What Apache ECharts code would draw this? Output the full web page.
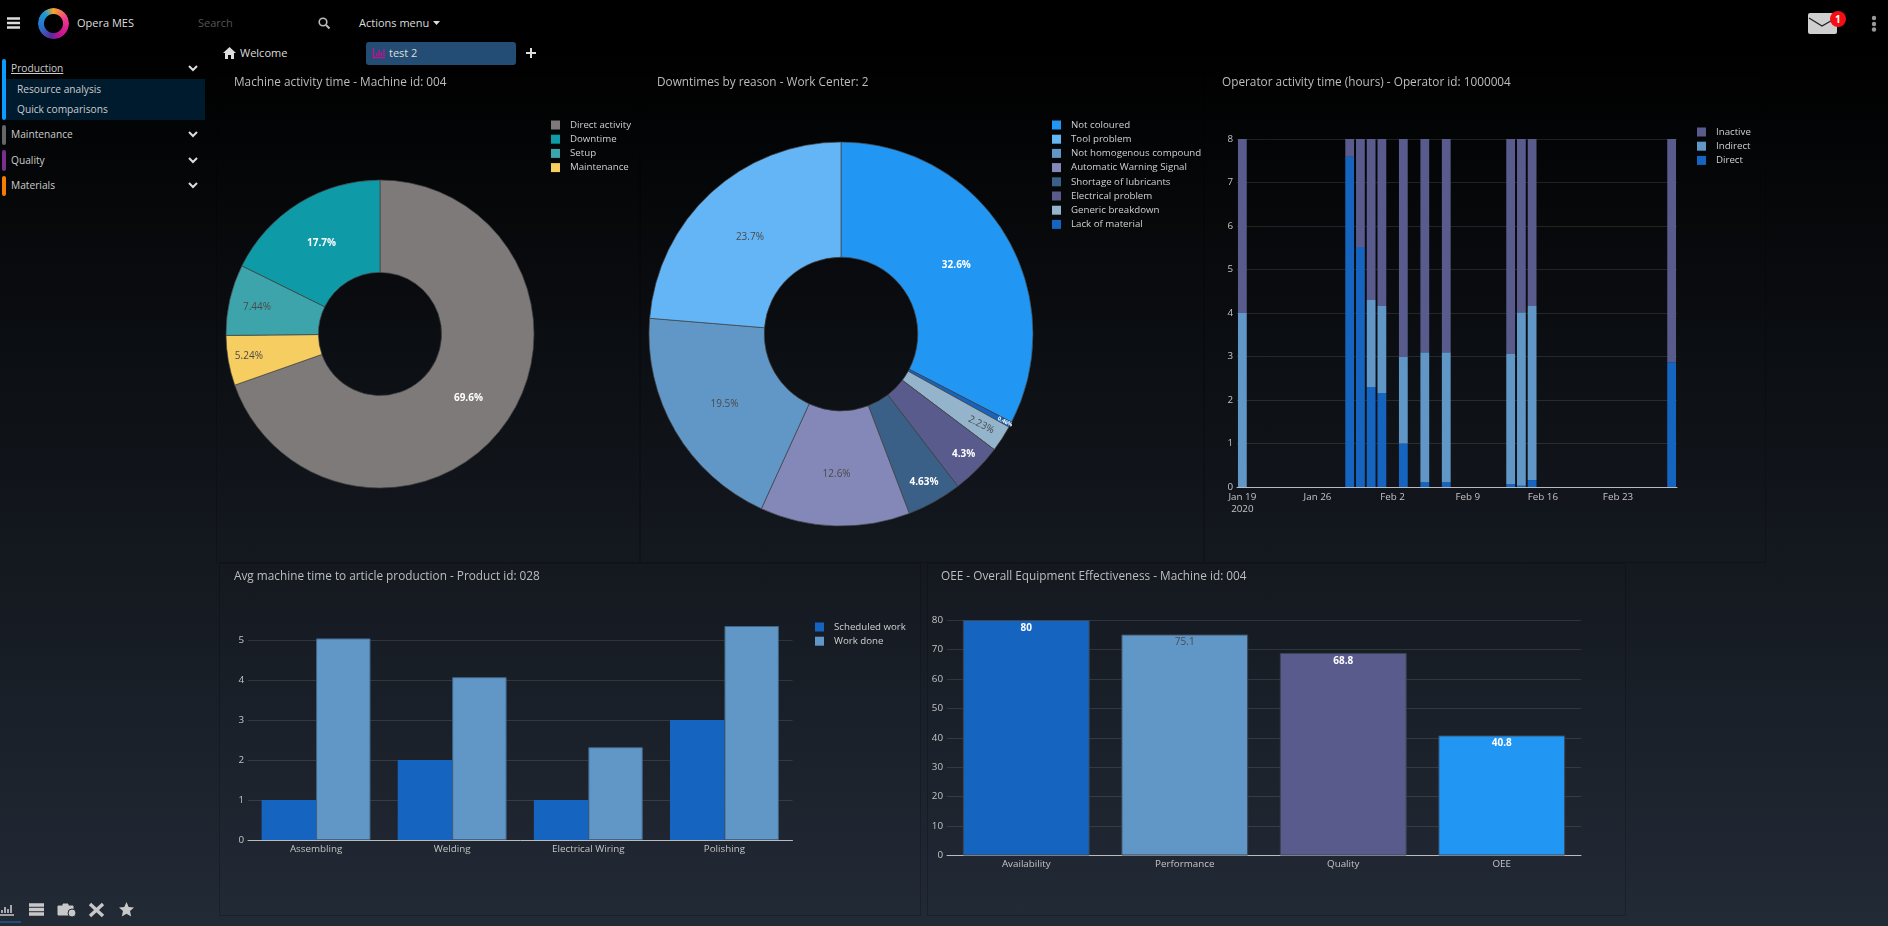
<!DOCTYPE html>
<html>
<head>
<meta charset="utf-8">
<title>Opera MES</title>
<script src="https://cdn.jsdelivr.net/npm/echarts@6/dist/echarts.min.js"></script>
<style>
html, body { margin: 0; padding: 0; width: 1888px; height: 926px; overflow: hidden; }
body { background: linear-gradient(#000 0, #000 50px, #222a36 100%); font-family: "Open Sans", sans-serif; color: #ccc; font-size: 11px; position: relative; }
.abs { position: absolute; white-space: nowrap; line-height: 14px; }
.side { font-size: 10.2px; }
.panel { position: absolute; box-sizing: border-box; border: 1px solid rgba(0,0,0,.2); }
.bar { position: absolute; left: 2px; width: 4px; border-radius: 2px; }
svg { position: absolute; overflow: visible; }
#logo { position: absolute; left: 38px; top: 8px; width: 31px; height: 31px; border-radius: 50%;
  background: conic-gradient(#f5a623 0deg, #f0388f 70deg, #c4128f 150deg, #5a2a9c 190deg, #2a6fc9 250deg, #1c9bd8 320deg, #f5a623 360deg);
  -webkit-mask: radial-gradient(circle, transparent 9px, #000 10px); mask: radial-gradient(circle, transparent 9px, #000 10px); }
</style>
</head>
<body>

<!-- header -->
<svg style="left:7px;top:17px" width="14" height="12"><path d="M0 1.5h13M0 6h13M0 10.5h13" stroke="#ddd" stroke-width="2.4"/></svg>
<div id="logo"></div>
<div class="abs" style="left:77px;top:16px;color:#ddd">Opera MES</div>
<div class="abs" style="left:198px;top:16px;color:#555">Search</div>
<svg style="left:318px;top:17px" width="12" height="12"><circle cx="5" cy="5" r="3.8" fill="none" stroke="#bbb" stroke-width="1.6"/><path d="M8 8l3.5 3.5" stroke="#bbb" stroke-width="2"/></svg>
<div class="abs" style="left:359px;top:16px;color:#ddd">Actions menu</div>
<svg style="left:433px;top:21px" width="8" height="5"><path d="M0 0h7l-3.5 4z" fill="#ddd"/></svg>
<svg style="left:1808px;top:13px" width="30" height="22"><rect width="29" height="21" rx="2" fill="#cfcfcf"/><path d="M1 5l13 8 14-8" fill="none" stroke="#222" stroke-width="1.4"/></svg>
<svg style="left:1830px;top:11px" width="16" height="16"><circle cx="8" cy="8" r="8" fill="#f50f14"/></svg>
<div class="abs" style="left:1835px;top:12px;color:#fff;font-weight:700;font-size:10px">1</div>
<svg style="left:1871px;top:15px" width="6" height="18"><circle cx="3" cy="3" r="2.2" fill="#999"/><circle cx="3" cy="9" r="2.2" fill="#999"/><circle cx="3" cy="14.5" r="2.2" fill="#999"/></svg>

<!-- tabs -->
<svg style="left:223px;top:47px" width="13" height="12"><path d="M6.5 0L13 6h-2v6H8V8H5v4H2V6H0z" fill="#ddd"/></svg>
<div class="abs" style="left:240px;top:46px;color:#ddd">Welcome</div>
<div style="position:absolute;left:366px;top:42px;width:150px;height:23px;background:#234d74;border-radius:3px"></div>
<svg style="left:373px;top:48px" width="12" height="10"><path d="M.5 0v9.5H12M3.5 8V5M6 8V2M8.5 8V4M11 8V1" fill="none" stroke="#c4128f" stroke-width="1.3"/></svg>
<div class="abs" style="left:389px;top:46px;color:#ddd">test 2</div>
<svg style="left:526px;top:48px" width="10" height="10"><path d="M5 0v10M0 5h10" stroke="#ddd" stroke-width="2"/></svg>

<!-- sidebar -->
<div class="bar" style="top:59px;height:61px;background:#0a9cff"></div>
<div class="bar" style="top:125px;height:20px;background:#666"></div>
<div class="bar" style="top:150px;height:21px;background:#7a2f8f"></div>
<div class="bar" style="top:176px;height:20px;background:#f57c00"></div>
<div style="position:absolute;left:6px;top:79px;width:199px;height:41px;background:#001a2e"></div>
<div class="abs side" style="left:11px;top:61px;text-decoration:underline">Production</div>
<div class="abs side" style="left:17px;top:82px">Resource analysis</div>
<div class="abs side" style="left:17px;top:102px">Quick comparisons</div>
<div class="abs side" style="left:11px;top:127px">Maintenance</div>
<div class="abs side" style="left:11px;top:153px">Quality</div>
<div class="abs side" style="left:11px;top:178px">Materials</div>
<svg style="left:188px;top:65px" width="10" height="7"><path d="M1 1l4 4 4-4" fill="none" stroke="#ddd" stroke-width="2"/></svg>
<svg style="left:188px;top:131px" width="10" height="7"><path d="M1 1l4 4 4-4" fill="none" stroke="#ddd" stroke-width="2"/></svg>
<svg style="left:188px;top:157px" width="10" height="7"><path d="M1 1l4 4 4-4" fill="none" stroke="#ddd" stroke-width="2"/></svg>
<svg style="left:188px;top:182px" width="10" height="7"><path d="M1 1l4 4 4-4" fill="none" stroke="#ddd" stroke-width="2"/></svg>

<!-- bottom icons -->
<svg style="left:0;top:903px" width="14" height="13"><path d="M0 12h14M2 10V7M5 10V4M8 10V6M11 10V2" fill="none" stroke="#c8c8c8" stroke-width="1.6"/></svg>
<svg style="left:29px;top:903px" width="15" height="13"><path d="M0 2h15M0 6.5h15M0 11h15" stroke="#c8c8c8" stroke-width="3.4"/></svg>
<svg style="left:58px;top:903px" width="19" height="14"><path d="M0 3h15v9H0zM5 3V1h5v2" fill="#c8c8c8" stroke="#c8c8c8"/><circle cx="14" cy="10" r="4" fill="#c8c8c8" stroke="#222a36"/></svg>
<svg style="left:89px;top:903px" width="15" height="14"><path d="M1 1l13 12M14 1L1 13" stroke="#c8c8c8" stroke-width="3.4"/></svg>
<svg style="left:119px;top:902px" width="15" height="15"><path d="M7.5 0l2.2 5 5.3.5-4 3.6 1.2 5.4-4.7-2.8-4.7 2.8 1.2-5.4-4-3.6L5.3 5z" fill="#c8c8c8"/></svg>
<div style="position:absolute;left:0;top:921px;width:21px;height:2px;background:#1f4d7a"></div>

<!-- chart panels -->
<div class="panel" id="chart1" style="left:216px;top:72px;width:424px;height:491px"></div>
<div class="panel" id="chart2" style="left:640px;top:72px;width:564px;height:491px"></div>
<div class="panel" id="chart3" style="left:1204px;top:72px;width:562px;height:491px"></div>
<div class="panel" id="chart4" style="left:219px;top:563px;width:702px;height:353px"></div>
<div class="panel" id="chart5" style="left:927px;top:563px;width:699px;height:353px"></div>

<script>
// data
var activityNames = ['Direct activity', 'Maintenance', 'Setup', 'Downtime'];
var activityValues = [69.6, 5.24, 7.44, 17.7];
var activityLegend = ['Direct activity', 'Downtime', 'Setup', 'Maintenance'];

var reasonNames = ['Not coloured', 'Lack of material', 'Generic breakdown', 'Electrical problem', 'Shortage of lubricants', 'Automatic Warning Signal', 'Not homogenous compound', 'Tool problem'];
var reasonValues = [32.6, 0.46, 2.23, 4.3, 4.63, 12.6, 19.5, 23.7];
var reasonLegend = ['Not coloured', 'Tool problem', 'Not homogenous compound', 'Automatic Warning Signal', 'Shortage of lubricants', 'Electrical problem', 'Generic breakdown', 'Lack of material'];

var operatorDays = ['Jan 19', 'Jan 29', 'Jan 30', 'Jan 31', 'Feb 1', 'Feb 3', 'Feb 5', 'Feb 7', 'Feb 13', 'Feb 14', 'Feb 15', 'Feb 28'];
var operatorDirect = [0, 7.59, 5.52, 2.3, 2.16, 1, 0.11, 0.11, 0.07, 0.03, 0.16, 2.87];
var operatorIndirect = [4, 0, 0, 2, 2, 2, 2.99, 2.99, 2.99, 3.99, 4, 0];
var operatorInactive = [4, 0.41, 2.48, 3.7, 3.84, 5, 4.9, 4.9, 4.94, 3.98, 3.84, 5.13];
var weekTicks = ['Jan 19', 'Jan 26', 'Feb 2', 'Feb 9', 'Feb 16', 'Feb 23'];

var phaseNames = ['Assembling', 'Welding', 'Electrical Wiring', 'Polishing'];
var scheduledWork = [1, 2, 1, 3];
var workDone = [5.04, 4.07, 2.32, 5.35];

var oeeNames = ['Availability', 'Performance', 'Quality', 'OEE'];
var oeeValues = [80, 75.1, 68.8, 40.8];

// colours
var activityColors = ['#7f7a7a', '#f6cd61', '#3da4ab', '#0e9aa7'];
var reasonColors = ['#2196f3', '#1565c0', '#94b4cc', '#585b8c', '#3a6088', '#8488b8', '#6097c7', '#64b5f6'];
var oeeColors = ['#1565c0', '#6097c7', '#585b8c', '#2196f3'];
var DARK = '#4a4a4a', WHITE = '#fff';
var activityLabelColors = [WHITE, DARK, DARK, WHITE];
var reasonLabelColors = [WHITE, WHITE, DARK, WHITE, WHITE, DARK, DARK, DARK];
var oeeLabelColors = [WHITE, DARK, WHITE, WHITE];
// plotly pushes labels of the thin slices outwards, [dx, dy, rotate]
// rotated labels turn around their old spot so their dx/dy are turned back by the same angle
var activityLabelShift = [[-2, 0, 0], [-22, 3, 0], [-15, -2, 0], [0, 3, 0]];
var reasonLabelShift = [[-2, 3, 0], [48.7, 1, -27], [29.5, 2.9, -27], [25, 23, 0], [16, 28, 0], [0, 3, 0], [2, 1, 0], [2, 4, 0]];

var FONT = '"Open Sans", sans-serif';
var AXIS_TEXT = { color: '#c4c4c4', fontSize: 9.8, fontFamily: FONT, margin: 4 };
var GRID_LINE = { lineStyle: { color: 'rgba(255,255,255,0.11)', width: 1 } };

function chartTitle(text, left, top) {
    return { text: text, left: left, top: top, padding: 0,
        textStyle: { color: '#bdbdbd', fontSize: 11.8, fontWeight: 'normal', fontFamily: FONT } };
}
function chartLegend(names, left, top) {
    return { data: names, orient: 'vertical', left: left, top: top, padding: 0, icon: 'rect',
        itemWidth: 9, itemHeight: 9, itemGap: 4.2, selectedMode: false, itemStyle: { borderWidth: 0 },
        textStyle: { color: '#d0d0d0', fontSize: 9.7, fontFamily: FONT, padding: [0, 0, 0, 5] } };
}
function pieSeries(names, values, colors, labelColors, shift, center, radius, hole) {
    var rows = [];
    for (var i = 0; i < names.length; i++) {
        rows.push({
            name: names[i], value: values[i],
            itemStyle: { color: colors[i] },
            label: {
                color: labelColors[i],
                fontWeight: labelColors[i] == WHITE ? 700 : 400,
                fontSize: values[i] < 1 ? 5.5 : 10,
                formatter: values[i] + '%'
            }
        });
    }
    return {
        type: 'pie', center: center, radius: [hole, radius], startAngle: 90, clockwise: true,
        avoidLabelOverlap: false, minAngle: 0, data: rows,
        itemStyle: { borderColor: '#444', borderWidth: 0.7 },
        label: { show: true, position: 'inside', fontFamily: FONT },
        labelLine: { show: false },
        emphasis: { scale: false },
        labelLayout: function (params) {
            var s = shift[params.dataIndex];
            return { dx: s[0], dy: s[1], rotate: s[2] };
        }
    };
}

// machine activity
var myChart = echarts.init(document.getElementById('chart1'));
var option = {
    animation: false,
    title: chartTitle('Machine activity time - Machine id: 004', 17, 3.5),
    legend: chartLegend(activityLegend, 334, 47),
    series: [pieSeries(activityNames, activityValues, activityColors, activityLabelColors, activityLabelShift, [163, 261], 154, 61.6)]
};
myChart.setOption(option);

// downtimes
var myChart = echarts.init(document.getElementById('chart2'));
var option = {
    animation: false,
    title: chartTitle('Downtimes by reason - Work Center: 2', 16, 3.5),
    legend: chartLegend(reasonLegend, 411, 47),
    series: [pieSeries(reasonNames, reasonValues, reasonColors, reasonLabelColors, reasonLabelShift, [200, 261], 192, 76.8)]
};
myChart.setOption(option);

// operator activity, one category per calendar day so the gaps stay
var calendarDays = [];
for (var d = new Date(2020, 0, 19); d <= new Date(2020, 1, 28); d.setDate(d.getDate() + 1)) {
    calendarDays.push(echarts.time.format(d, '{MMM} {d}', false));
}
function operatorRows(values) {
    return calendarDays.map(function (day) {
        var at = operatorDays.indexOf(day);
        return at < 0 ? '-' : values[at];
    });
}
function stackBar(name, values, color) {
    return { name: name, type: 'bar', stack: 'time', barWidth: 8.8, itemStyle: { color: color }, data: operatorRows(values) };
}
var myChart = echarts.init(document.getElementById('chart3'));
var option = {
    animation: false,
    title: chartTitle('Operator activity time (hours) - Operator id: 1000004', 17, 3.5),
    legend: chartLegend(['Inactive', 'Indirect', 'Direct'], 492, 54),
    grid: { left: 32, top: 66, width: 440, height: 348, outerBoundsMode: 'none' },
    xAxis: {
        type: 'category', data: calendarDays,
        axisLine: { lineStyle: { color: '#bbb', width: 1 } },
        axisTick: { show: false }, splitLine: { show: false },
        axisLabel: Object.assign({}, AXIS_TEXT, {
            lineHeight: 12, hideOverlap: false,
            interval: function (index, value) { return weekTicks.indexOf(value) >= 0; },
            formatter: function (value) { return value == weekTicks[0] ? value + '\n2020' : value; }
        })
    },
    yAxis: {
        type: 'value', min: 0, max: 8, interval: 1,
        axisLine: { show: false }, axisTick: { show: false },
        splitLine: GRID_LINE, axisLabel: AXIS_TEXT
    },
    series: [
        stackBar('Direct', operatorDirect, '#1565c0'),
        stackBar('Indirect', operatorIndirect, '#6097c7'),
        stackBar('Inactive', operatorInactive, '#585b8c')
    ]
};
myChart.setOption(option);

// avg machine time
var myChart = echarts.init(document.getElementById('chart4'));
var option = {
    animation: false,
    title: chartTitle('Avg machine time to article production - Product id: 028', 14, 6.5),
    legend: chartLegend(['Scheduled work', 'Work done'], 595, 58),
    grid: { left: 28, top: 36, width: 544.5, height: 240, outerBoundsMode: 'none' },
    xAxis: {
        type: 'category', data: phaseNames,
        axisLine: { lineStyle: { color: '#bbb', width: 1 } }, axisTick: { show: false },
        axisLabel: AXIS_TEXT
    },
    yAxis: {
        type: 'value', min: 0, max: 6, interval: 1,
        axisLine: { show: false }, axisTick: { show: false },
        splitLine: Object.assign({ showMaxLine: false }, GRID_LINE),
        axisLabel: Object.assign({ showMaxLabel: false }, AXIS_TEXT)
    },
    series: [
        { name: 'Scheduled work', type: 'bar', barGap: 0, barCategoryGap: '20%', data: scheduledWork, itemStyle: { color: '#1565c0' } },
        { name: 'Work done', type: 'bar', data: workDone, itemStyle: { color: '#6097c7', borderColor: '#3f6485', borderWidth: 1 } }
    ]
};
myChart.setOption(option);

// OEE
var myChart = echarts.init(document.getElementById('chart5'));
var option = {
    animation: false,
    title: chartTitle('OEE - Overall Equipment Effectiveness - Machine id: 004', 13, 6.5),
    grid: { left: 19, top: 56, width: 634, height: 235.5, outerBoundsMode: 'none' },
    xAxis: {
        type: 'category', data: oeeNames,
        axisLine: { lineStyle: { color: '#bbb', width: 1 } }, axisTick: { show: false },
        axisLabel: AXIS_TEXT
    },
    yAxis: {
        type: 'value', min: 0, max: 80, interval: 10,
        axisLine: { show: false }, axisTick: { show: false },
        splitLine: GRID_LINE, axisLabel: AXIS_TEXT
    },
    series: [{
        type: 'bar', barCategoryGap: '20%',
        data: oeeValues.map(function (v, i) {
            return {
                value: v,
                itemStyle: { color: oeeColors[i], borderColor: '#3a4656', borderWidth: 1 },
                label: { color: oeeLabelColors[i], fontWeight: oeeLabelColors[i] == WHITE ? 700 : 400 }
            };
        }),
        label: { show: true, position: 'insideTop', distance: 3, fontSize: 10, fontFamily: FONT }
    }]
};
myChart.setOption(option);
</script>
</body>
</html>
